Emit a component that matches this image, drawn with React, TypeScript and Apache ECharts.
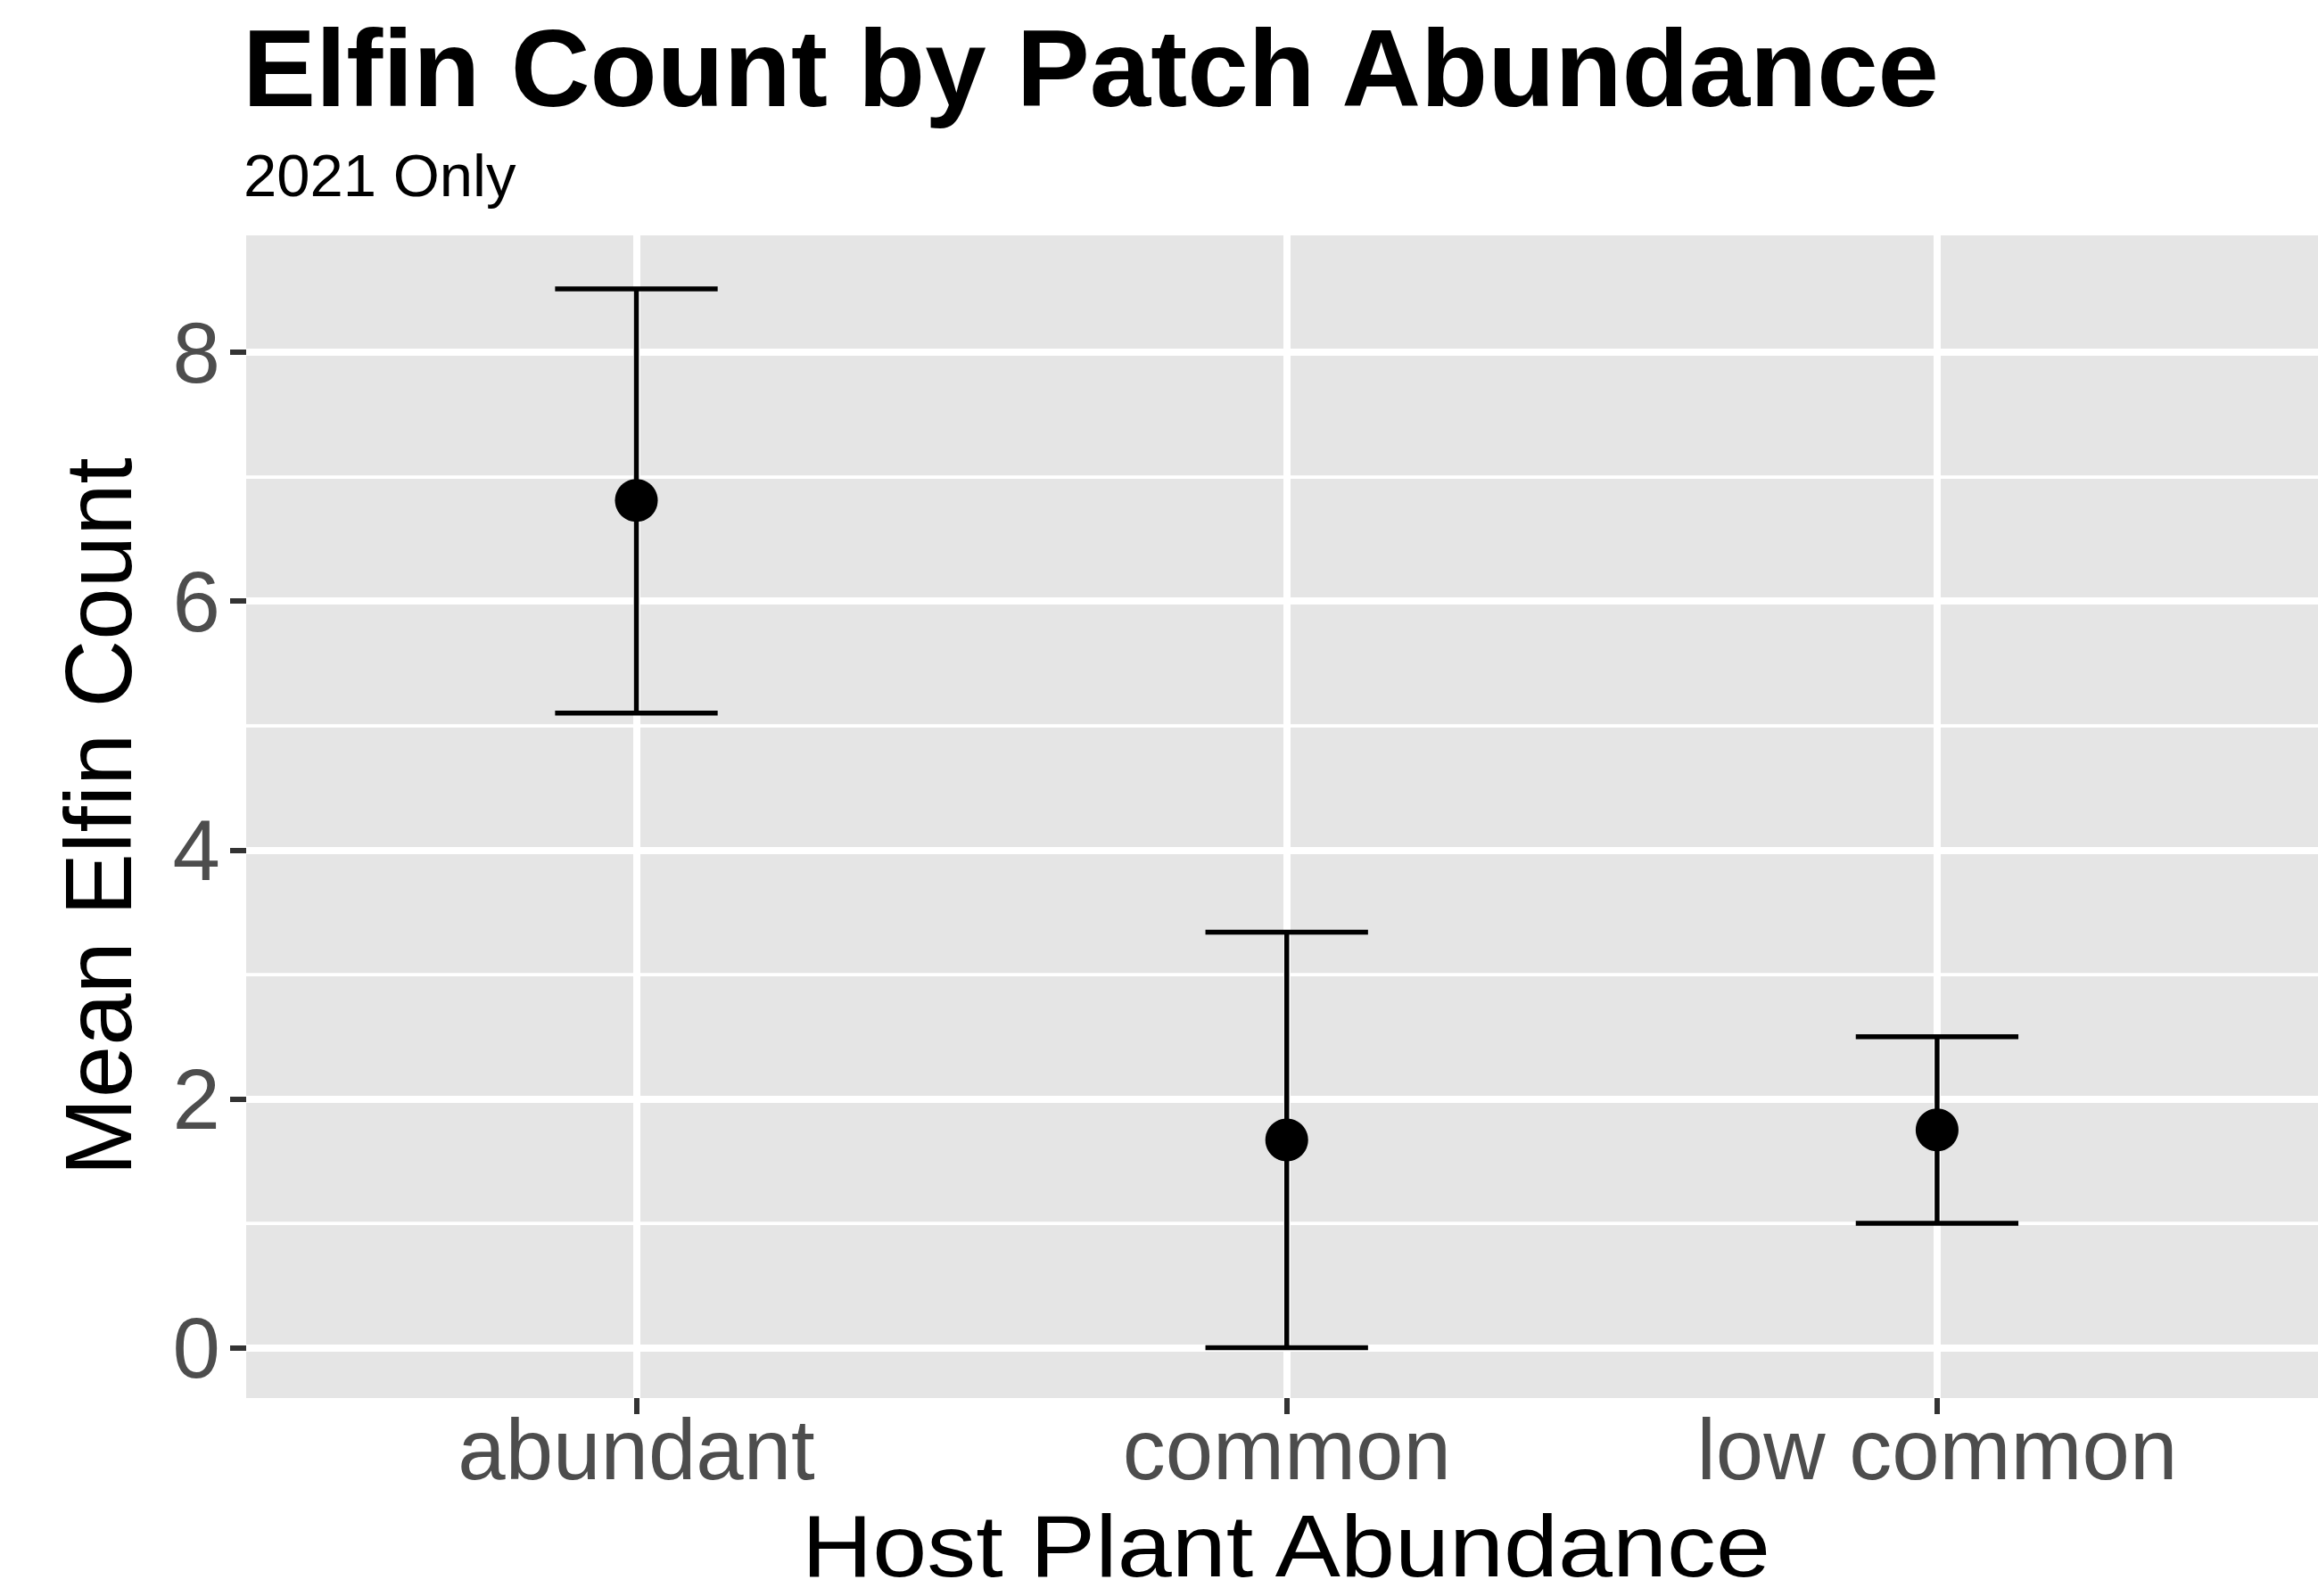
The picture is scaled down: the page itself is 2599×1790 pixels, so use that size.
import React, { useEffect, useRef } from "react";
import * as echarts from "echarts";

const categories = ["abundant", "common", "low common"];
const categoryPositions = [1, 2, 3];
const meanCount = [6.81, 1.67, 1.75];
const lowerCount = [5.1, 0, 1.0];
const upperCount = [8.51, 3.34, 2.5];
const yMajorTicks = [0, 2, 4, 6, 8];
const yMinorTicks = [1, 3, 5, 7];
const yTickLabels = ["0", "2", "4", "6", "8"];

const titleText = "Elfin Count by Patch Abundance";
const subtitleText = "2021 Only";
const xTitle = "Host Plant Abundance";
const yTitle = "Mean Elfin Count";

export default function App() {
  const ref = useRef<HTMLDivElement>(null);

  useEffect(() => {
    if (!ref.current) return;
    const chart = echarts.init(ref.current, null, { renderer: "svg" });
    const font = "'Liberation Sans', Arial, Helvetica, sans-serif";
    const errData = categoryPositions.map((x, i) => [x, meanCount[i], lowerCount[i], upperCount[i]]);
    const pointData = categoryPositions.map((x, i) => [x, meanCount[i]]);
    const capHalf = 0.125;
    const yMin = -0.405;
    const yMax = 8.94;

    chart.setOption({
      animation: false,
      backgroundColor: "#ffffff",
      graphic: [
        {
          type: "text",
          x: 272,
          y: 76,
          style: {
            text: titleText,
            fill: "#000000",
            fontSize: 123,
            fontWeight: "bold",
            fontFamily: font,
            align: "left",
            verticalAlign: "middle",
          },
        },
        {
          type: "text",
          x: 273,
          y: 196,
          style: {
            text: subtitleText,
            fill: "#000000",
            fontSize: 67,
            fontFamily: font,
            align: "left",
            verticalAlign: "middle",
          },
        },
        {
          type: "text",
          x: 1442,
          y: 1734,
          scaleX: 1.12,
          style: {
            text: xTitle,
            fill: "#000000",
            fontSize: 98,
            fontFamily: font,
            align: "center",
            verticalAlign: "middle",
          },
        },
      ],
      grid: {
        left: 276,
        right: 0,
        top: 264,
        bottom: 222,
        show: true,
        backgroundColor: "#e5e5e5",
        borderWidth: 0,
        containLabel: false,
        outerBoundsMode: "none",
      },
      xAxis: {
        type: "value",
        min: 0.4,
        max: 3.5857,
        axisLine: { show: false, onZero: false },
        axisTick: {
          show: true,
          customValues: categoryPositions,
          length: 18,
          lineStyle: { color: "#333333", width: 6 },
        },
        axisLabel: {
          customValues: categoryPositions,
          formatter: (v: number) => categories[Math.round(v) - 1] ?? "",
          color: "#4d4d4d",
          fontSize: 96,
          fontFamily: font,
          margin: 9,
        },
        splitLine: { show: true, lineStyle: { color: "#ffffff", width: 8 } },
      },
      yAxis: [
        {
          type: "value",
          min: yMin,
          max: yMax,
          axisLine: { show: false, onZero: false },
          axisTick: {
            show: true,
            customValues: yMajorTicks,
            length: 18,
            lineStyle: { color: "#333333", width: 6 },
          },
          axisLabel: {
            customValues: yMajorTicks,
            formatter: (v: number) => yTickLabels[yMajorTicks.indexOf(Math.round(v))] ?? "",
            color: "#4d4d4d",
            fontSize: 96,
            fontFamily: font,
            margin: 29,
          },
          splitLine: { show: true, lineStyle: { color: "#ffffff", width: 8 } },
          name: yTitle,
          nameLocation: "middle",
          nameRotate: 90,
          nameGap: 113,
          nameMoveOverlap: false,
          nameTextStyle: { color: "#000000", fontSize: 105, fontFamily: font },
        },
        {
          type: "value",
          min: yMin,
          max: yMax,
          position: "left",
          axisLine: { show: false, onZero: false },
          axisTick: { show: false, customValues: yMinorTicks },
          axisLabel: { show: false, customValues: yMinorTicks },
          splitLine: { show: true, lineStyle: { color: "#ffffff", width: 3.75 } },
        },
      ],
      series: [
        {
          type: "custom",
          z: 3,
          data: errData,
          encode: { x: 0, y: [1, 2, 3] },
          renderItem: (params: any, api: any) => {
            const x = api.value(0);
            const lo = api.coord([x, api.value(2)]);
            const hi = api.coord([x, api.value(3)]);
            const capL = api.coord([x - capHalf, api.value(2)])[0];
            const capR = api.coord([x + capHalf, api.value(2)])[0];
            const style = { stroke: "#000000", lineWidth: 5.5, fill: null };
            return {
              type: "group",
              children: [
                { type: "line", shape: { x1: lo[0], y1: lo[1], x2: hi[0], y2: hi[1] }, style },
                { type: "line", shape: { x1: capL, y1: hi[1], x2: capR, y2: hi[1] }, style },
                { type: "line", shape: { x1: capL, y1: lo[1], x2: capR, y2: lo[1] }, style },
              ],
            };
          },
        },
        {
          type: "scatter",
          z: 4,
          data: pointData,
          symbol: "circle",
          symbolSize: 48,
          itemStyle: { color: "#000000", opacity: 1 },
        },
      ],
    });

    return () => {
      chart.dispose();
    };
  }, []);

  return (
    <div
      ref={ref}
      style={{ position: "absolute", left: 0, top: 0, width: 2599, height: 1790 }}
    />
  );
}
